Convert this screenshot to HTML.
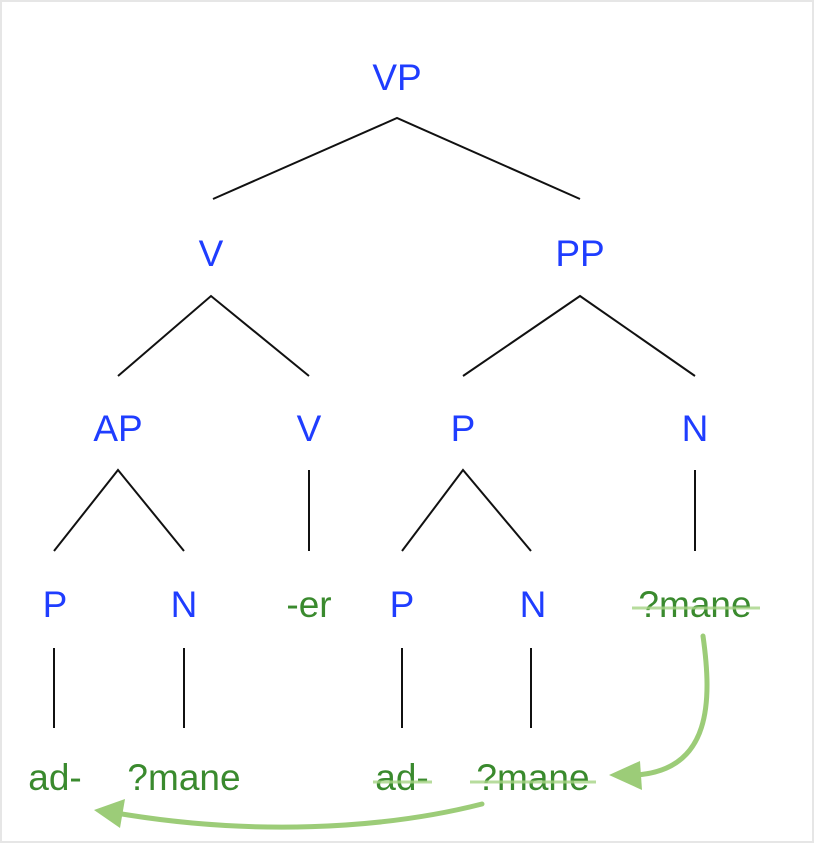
<!DOCTYPE html>
<html><head><style>
html,body{margin:0;padding:0;background:#fff;}
svg{display:block;}
text{font-family:"Liberation Sans",sans-serif;font-size:37px;text-anchor:middle;}
.b{fill:#1f3dff;}
.g{fill:#3a8a2e;}
</style></head><body>
<svg width="814" height="844" viewBox="0 0 814 844">
<rect x="1" y="1" width="812" height="841" fill="#fff" stroke="#e6e6e6" stroke-width="2"/>
<g stroke="#111" stroke-width="2" fill="none">
<path d="M213 199 L397 118 L580 199"/>
<path d="M118 376 L211 296 L309 376"/>
<path d="M463 376 L580 296 L695 376"/>
<path d="M54 551 L118 470 L184 551"/>
<path d="M309 470 L309 551"/>
<path d="M402 551 L463 470 L531 551"/>
<path d="M695 470 L695 551"/>
<path d="M54 648 L54 728 M184 648 L184 728 M402 648 L402 728 M531 648 L531 728"/>
</g>
<text class="b" x="397" y="90">VP</text>
<text class="b" x="211" y="266">V</text>
<text class="b" x="580" y="266">PP</text>
<text class="b" x="118" y="441">AP</text>
<text class="b" x="309" y="441">V</text>
<text class="b" x="463" y="441">P</text>
<text class="b" x="695" y="441">N</text>
<text class="b" x="55" y="617">P</text>
<text class="b" x="184" y="617">N</text>
<text class="g" x="309" y="617">-er</text>
<text class="b" x="402" y="617">P</text>
<text class="b" x="533" y="617">N</text>
<text class="g" x="695" y="617">?mane</text>
<text class="g" x="55" y="790">ad-</text>
<text class="g" x="184" y="790">?mane</text>
<text class="g" x="402" y="790">ad-</text>
<text class="g" x="533" y="790">?mane</text>
<g stroke="#a6d485" stroke-width="3" opacity="0.8">
<line x1="632" y1="608" x2="760" y2="608"/>
<line x1="373" y1="782" x2="432" y2="782"/>
<line x1="470" y1="782" x2="596" y2="782"/>
</g>
<g stroke="#9ccc78" stroke-width="5" fill="none" stroke-linecap="round">
<path d="M703 636 C712 700 712 770 636 775"/>
<path d="M482 804 C380 830 250 835 122 814"/>
</g>
<g fill="#9ccc78">
<polygon points="609,775 640,761 642,790"/>
<polygon points="94,810 125,799 120,828"/>
</g>
</svg>
</body></html>
